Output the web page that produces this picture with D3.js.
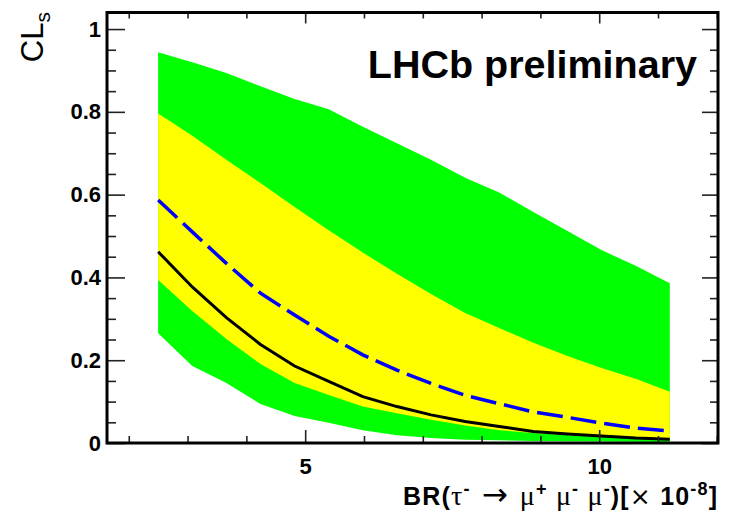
<!DOCTYPE html>
<html>
<head>
<meta charset="utf-8">
<script src="https://cdn.jsdelivr.net/npm/d3@7"></script>
<style>
  body { margin: 0; background: #fff; }
  svg { display: block; font-family: "Liberation Sans", Arial, sans-serif; }
</style>
</head>
<body>
<svg id="chart"></svg>
<script>
const width = 731;
const height = 512;

// points du scan en BR (x 10^-8)
const brValues = [2.50, 3.08, 3.66, 4.24, 4.82, 5.40, 5.98, 6.56, 7.14, 7.72, 8.30, 8.88, 9.46, 10.04, 10.62, 11.20];
// CLs observé
const observed = [0.462, 0.377, 0.303, 0.238, 0.186, 0.149, 0.112, 0.088, 0.068, 0.052, 0.040, 0.028, 0.022, 0.017, 0.012, 0.009];
// CLs attendu (médiane)
const expected = [0.587, 0.510, 0.434, 0.362, 0.309, 0.258, 0.213, 0.176, 0.144, 0.115, 0.095, 0.075, 0.062, 0.048, 0.036, 0.029];
// bandes +-1 sigma et +-2 sigma
const band1Low = [0.394, 0.319, 0.251, 0.191, 0.145, 0.116, 0.088, 0.072, 0.056, 0.042, 0.031, 0.024, 0.019, 0.016, 0.013, 0.011];
const band1High = [0.796, 0.742, 0.684, 0.628, 0.570, 0.514, 0.460, 0.409, 0.360, 0.314, 0.278, 0.242, 0.210, 0.181, 0.155, 0.124];
const band2Low = [0.265, 0.186, 0.145, 0.094, 0.065, 0.049, 0.031, 0.019, 0.012, 0.008, 0.0065, 0.005, 0.004, 0.0035, 0.003, 0.0025];
const band2High = [0.944, 0.920, 0.894, 0.862, 0.831, 0.806, 0.764, 0.724, 0.684, 0.641, 0.605, 0.558, 0.512, 0.466, 0.428, 0.386];

const yMajor = [0, 0.2, 0.4, 0.6, 0.8, 1];
const yMinor = [0.05, 0.1, 0.15, 0.25, 0.3, 0.35, 0.45, 0.5, 0.55, 0.65, 0.7, 0.75, 0.85, 0.9, 0.95];
const xMajor = [5, 10];
const xMinor = [2, 3, 4, 6, 7, 8, 9, 11, 12];

const margin = { top: 12.5, right: 13, bottom: 69, left: 107 };

const x = d3.scaleLinear().domain([1.63, 12.02]).range([margin.left, width - margin.right]);
const y = d3.scaleLinear().domain([0, 1.04]).range([height - margin.bottom, margin.top]);

const svg = d3.select('#chart')
    .attr('width', width)
    .attr('height', height);

const rows = brValues.map((br, i) => ({
    br,
    obs: observed[i],
    exp: expected[i],
    lo1: band1Low[i], hi1: band1High[i],
    lo2: band2Low[i], hi2: band2High[i]
}));

const band = (lo, hi) => d3.area()
    .x(d => x(d.br))
    .y0(d => y(d[lo]))
    .y1(d => y(d[hi]));

svg.append('path')
    .attr('d', band('lo2', 'hi2')(rows))
    .attr('fill', '#00ff00');

svg.append('path')
    .attr('d', band('lo1', 'hi1')(rows))
    .attr('fill', '#ffff00');

const line = key => d3.line()
    .x(d => x(d.br))
    .y(d => y(d[key]));

svg.append('path')
    .attr('d', line('exp')(rows))
    .attr('fill', 'none')
    .attr('stroke', '#0000ff')
    .attr('stroke-width', 3.5)
    .attr('stroke-dasharray', '26,8');

svg.append('path')
    .attr('d', line('obs')(rows))
    .attr('fill', 'none')
    .attr('stroke', '#000')
    .attr('stroke-width', 3);

// graduations (vers l'intérieur, sur les 4 côtés)
const tickGroup = (axis, tx, ty) => {
    const g = svg.append('g')
        .attr('transform', `translate(${tx},${ty})`)
        .call(axis);
    g.select('.domain').remove();
    g.selectAll('line').attr('stroke', '#222').attr('stroke-width', 1.6);
    g.selectAll('text').remove();
};

const x0 = margin.left, x1 = width - margin.right;
const y0 = height - margin.bottom, y1 = margin.top;

tickGroup(d3.axisRight(y).tickValues(yMajor).tickSize(18), x0, 0);
tickGroup(d3.axisRight(y).tickValues(yMinor).tickSize(9), x0, 0);
tickGroup(d3.axisLeft(y).tickValues(yMajor).tickSize(16), x1, 0);
tickGroup(d3.axisLeft(y).tickValues(yMinor).tickSize(8), x1, 0);
tickGroup(d3.axisTop(x).tickValues(xMajor).tickSize(13), 0, y0);
tickGroup(d3.axisTop(x).tickValues(xMinor).tickSize(7), 0, y0);
tickGroup(d3.axisBottom(x).tickValues(xMajor).tickSize(11), 0, y1);
tickGroup(d3.axisBottom(x).tickValues(xMinor).tickSize(6), 0, y1);

// cadre
svg.append('rect')
    .attr('x', x0).attr('y', y1)
    .attr('width', x1 - x0).attr('height', y0 - y1)
    .attr('fill', 'none')
    .attr('stroke', '#000')
    .attr('stroke-width', 3);

// labels des axes
const yLabels = svg.append('g')
    .attr('transform', `translate(${x0},0)`)
    .call(d3.axisLeft(y).tickValues(yMajor).tickSize(0).tickPadding(6).tickFormat(d => String(d)));
yLabels.select('.domain').remove();
yLabels.selectAll('text')
    .attr('font-family', '"Liberation Sans", Arial, sans-serif')
    .attr('font-size', 22)
    .attr('font-weight', 'bold')
    .attr('fill', '#000');

const xLabels = svg.append('g')
    .attr('transform', `translate(0,${y0})`)
    .call(d3.axisBottom(x).tickValues(xMajor).tickSize(0).tickPadding(15).tickFormat(d => String(d)));
xLabels.select('.domain').remove();
xLabels.selectAll('text')
    .attr('font-family', '"Liberation Sans", Arial, sans-serif')
    .attr('font-size', 22)
    .attr('font-weight', 'bold')
    .attr('fill', '#000');

// titre axe y : CL_s
const yTitle = svg.append('text')
    .attr('transform', 'translate(43,12) rotate(-90)')
    .attr('text-anchor', 'end')
    .attr('font-size', 31)
    .text('CL');
yTitle.append('tspan')
    .attr('font-size', 21)
    .attr('dy', 7)
    .text('s');

// titre axe x (étiré à la largeur de l'original)
const xTitle = svg.append('text')
    .attr('x', 403)
    .attr('y', 505)
    .attr('textLength', 314)
    .attr('lengthAdjust', 'spacing')
    .attr('font-size', 25)
    .attr('font-weight', 'bold');

const greek = '"Liberation Serif", "DejaVu Serif", serif';
const parts = [
    { t: 'BR(' },
    { t: 'τ', f: greek, w: 'normal', s: 28 },
    { t: '-', sup: true },
    { t: ' → ', f: '"DejaVu Sans"', w: 'normal', s: 31 },
    { t: 'μ', f: greek, w: 'normal', s: 28 },
    { t: '+', sup: true },
    { t: ' μ', f: greek, w: 'normal', s: 28 },
    { t: '-', sup: true },
    { t: ' μ', f: greek, w: 'normal', s: 28 },
    { t: '-', sup: true },
    { t: ')[' },
    { t: '×', f: '"DejaVu Sans"', w: 'normal', s: 25 },
    { t: ' 10' },
    { t: '-8', sup: true },
    { t: ']' }
];
let raised = false;
parts.forEach(p => {
    const ts = xTitle.append('tspan').text(p.t);
    if (p.f) ts.attr('font-family', p.f);
    if (p.w) ts.attr('font-weight', p.w);
    if (p.s) ts.attr('font-size', p.s);
    if (p.sup) {
        ts.attr('font-size', 18).attr('dy', -10);
        raised = true;
    } else if (raised) {
        ts.attr('dy', 10);
        raised = false;
    }
});

// étiquette LHCb
svg.append('text')
    .attr('x', 697)
    .attr('y', 78)
    .attr('text-anchor', 'end')
    .attr('font-size', 39.5)
    .attr('font-weight', 'bold')
    .text('LHCb preliminary');
</script>
</body>
</html>
